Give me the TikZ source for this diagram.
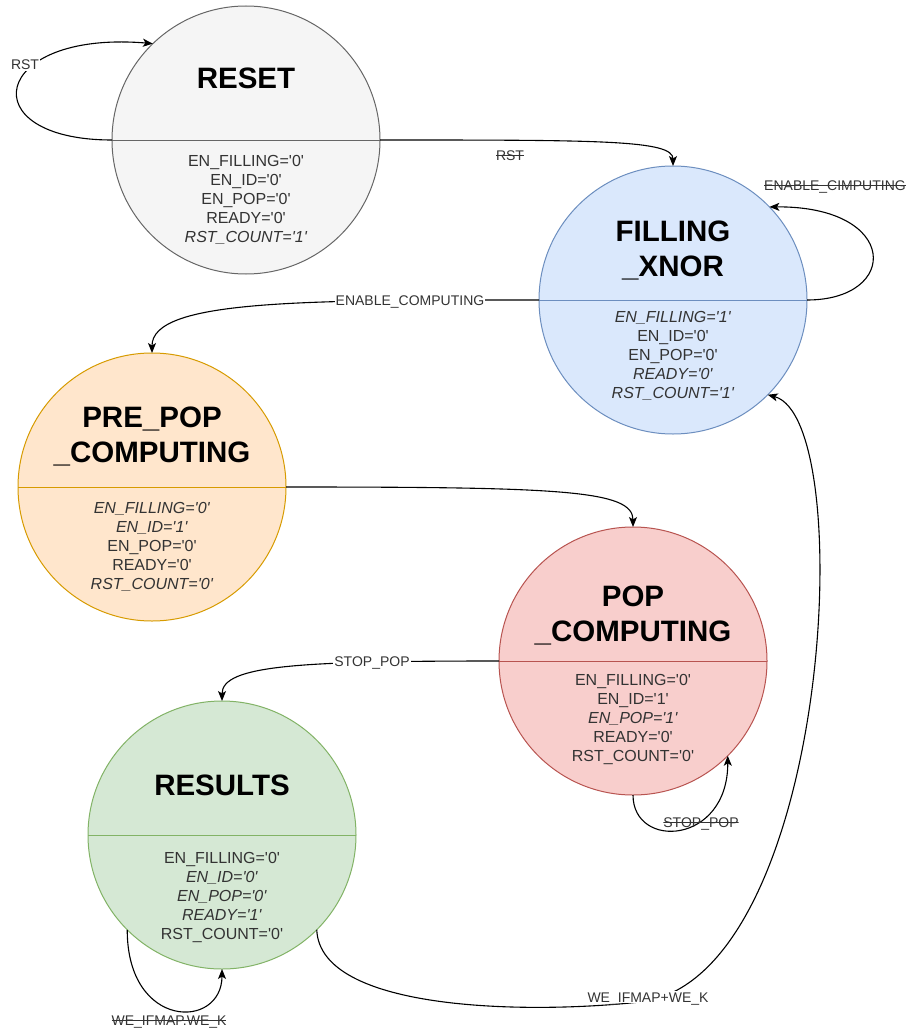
\documentclass[tikz,border=0pt]{standalone}
\usepackage{fontspec}
\setmainfont{Liberation Sans}[Ligatures=TeXOff]
\usetikzlibrary{arrows.meta,calc}

\definecolor{rsF}{HTML}{F5F5F5}\definecolor{rsD}{HTML}{666666}
\definecolor{fxF}{HTML}{DAE8FC}\definecolor{fxD}{HTML}{6C8EBF}
\definecolor{ppF}{HTML}{FFE6CC}\definecolor{ppD}{HTML}{D79B00}
\definecolor{pcF}{HTML}{F8CECC}\definecolor{pcD}{HTML}{B85450}
\definecolor{reF}{HTML}{D5E8D4}\definecolor{reD}{HTML}{82B366}
\definecolor{txt}{HTML}{333333}

\begin{document}
\begin{tikzpicture}[x=1pt, y=-1pt,
  stnode/.style={circle, minimum size=268pt, inner sep=0pt, outer sep=0pt, line width=1pt},
  stitle/.style={font=\fontsize{29.5}{35}\selectfont\bfseries, align=center, inner sep=0pt},
  attrs/.style={font=\fontsize{16}{19}\selectfont, text=txt, align=center, inner sep=0pt},
  lbl/.style={font=\fontsize{14}{16}\selectfont, text=txt, inner sep=1pt, text height=10pt, text depth=0pt},
  onedge/.style={lbl, fill=white},
  struck/.style={lbl, inner xsep=0pt, path picture={\draw[txt, line width=1pt]
      (path picture bounding box.west) -- (path picture bounding box.east);}},
  trans/.style={line width=1.1pt, -{Stealth[length=10pt,width=8pt,inset=2.5pt]}}
]
\useasboundingbox[fill=white] (0,0) rectangle (909,1030);

% states
\node[stnode, fill=rsF, draw=rsD] (reset)   at (246,140) {};
\node[stnode, fill=fxF, draw=fxD] (fillx)   at (673,300) {};
\node[stnode, fill=ppF, draw=ppD] (prepop)  at (152,487) {};
\node[stnode, fill=pcF, draw=pcD] (pop)     at (633,661) {};
\node[stnode, fill=reF, draw=reD] (results) at (222,835) {};

% dividers
\draw[rsD, line width=1pt] (reset.west) -- (reset.east);
\draw[fxD, line width=1pt] (fillx.west) -- (fillx.east);
\draw[ppD, line width=1pt] (prepop.west) -- (prepop.east);
\draw[pcD, line width=1pt] (pop.west) -- (pop.east);
\draw[reD, line width=1pt] (results.west) -- (results.east);

% state names
\node[stitle] (resetT)   at ($(reset)+(0,-62)$)    {RESET};
\node[stitle] (fillxT)   at ($(fillx)+(0,-50)$)    {FILLING\\\_XNOR};
\node[stitle] (prepopT)  at ($(prepop)+(0,-50.5)$) {PRE\_POP\\\_COMPUTING};
\node[stitle] (popT)     at ($(pop)+(0,-45.5)$)    {POP\\\_COMPUTING};
\node[stitle] (resultsT) at ($(results)+(0,-50)$)  {RESULTS};

% outputs
\node[attrs] (resetA) at ($(reset)+(0,60)$)
  {EN\_FILLING='0'\\EN\_ID='0'\\EN\_POP='0'\\READY='0'\\\textit{RST\_COUNT='1'}};
\node[attrs] (fillxA) at ($(fillx)+(0,55.5)$)
  {\textit{EN\_FILLING='1'}\\EN\_ID='0'\\EN\_POP='0'\\\textit{READY='0'}\\\textit{RST\_COUNT='1'}};
\node[attrs] (prepopA) at ($(prepop)+(0,60)$)
  {\textit{EN\_FILLING='0'}\\\textit{EN\_ID='1'}\\EN\_POP='0'\\READY='0'\\\textit{RST\_COUNT='0'}};
\node[attrs] (popA) at ($(pop)+(0,58)$)
  {EN\_FILLING='0'\\EN\_ID='1'\\\textit{EN\_POP='1'}\\READY='0'\\RST\_COUNT='0'};
\node[attrs] (resultsA) at ($(results)+(0,62)$)
  {EN\_FILLING='0'\\\textit{EN\_ID='0'}\\\textit{EN\_POP='0'}\\\textit{READY='1'}\\RST\_COUNT='0'};

% transitions
\draw[trans] (reset.west) .. controls (-30,140) and (-10,30) .. (reset.134);
\draw[trans] (reset.east) .. controls (600,140) and (673,140) .. (fillx.north);
\draw[trans] (fillx.east) .. controls (900,300) and (900,206) .. (fillx.44);
\draw[trans] (fillx.west) .. controls (300,300) and (152,300) .. (prepop.north);
\draw[trans] (prepop.east) .. controls (560,487) and (633,490) .. (pop.north);
\draw[trans] (pop.west) .. controls (300,661) and (222,665) .. (results.north);
\draw[trans] (pop.south) .. controls (633,850) and (728,845) .. (pop.-45);
\draw[trans] (results.-135) .. controls (127,1030) and (222,1030) .. (results.south);
\coordinate (wk) at (640,1002);
\draw[trans] (results.-45) .. controls (320,1012) and (530,1014) .. (wk)
  .. controls (830,980) and (860,420) .. (fillx.-45);

% transition labels
\node[onedge] (lRst)   at (25,65)    {RST};
\node[struck] (lRstB)  at (510,155)  {RST};
\node[struck] (lEnB)   at (835,185)  {ENABLE\_CIMPUTING};
\node[onedge] (lEn)    at (410,300)  {ENABLE\_COMPUTING};
\node[onedge] (lStop)  at (372,661)  {STOP\_POP};
\node[struck] (lStopB) at (701,822)  {STOP\_POP};
\node[struck] (lWeB)   at (169,1020) {WE\_IFMAP.WE\_K};
\node[onedge] (lWe)    at (648,997)  {WE\_IFMAP+WE\_K};
\end{tikzpicture}
\end{document}
